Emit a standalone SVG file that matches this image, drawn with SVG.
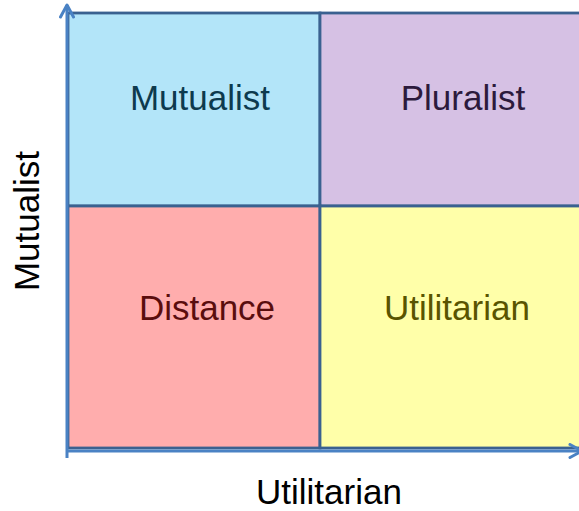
<svg xmlns="http://www.w3.org/2000/svg" width="579" height="511" viewBox="0 0 579 511">
  <style>
    .quad { stroke: #3a6190; stroke-width: 2.8; }
    .lbl { font-family: "Liberation Sans", Arial, sans-serif; font-size: 35px; text-anchor: middle; }
    .axis { stroke: #4a82c4; stroke-width: 3; fill: none; }
    .axlbl { font-family: "Liberation Sans", Arial, sans-serif; font-size: 35px; fill: #000; text-anchor: middle; }
  </style>
  <defs>
    <marker id="open-arrow" viewBox="0 0 16 16" refX="14" refY="8" markerWidth="16" markerHeight="16" markerUnits="userSpaceOnUse" orient="auto">
      <path d="M2,1.5 L14,8 L2,14.5" fill="none" stroke="#4a82c4" stroke-width="3" stroke-linecap="round" stroke-linejoin="round"/>
    </marker>
  </defs>

  <g id="quad-mutualist">
    <rect class="quad" x="68" y="13" width="252" height="193" fill="#b3e5f9"/>
    <text class="lbl" x="200" y="110" fill="#0d3a4e">Mutualist</text>
  </g>
  <g id="quad-pluralist">
    <rect class="quad" x="320" y="13" width="262" height="193" fill="#d6c1e4"/>
    <text class="lbl" x="463" y="110" fill="#2c1a3c">Pluralist</text>
  </g>
  <g id="quad-distance">
    <rect class="quad" x="68" y="206" width="252" height="242" fill="#ffadad"/>
    <text class="lbl" x="207" y="320" fill="#5a0d0d">Distance</text>
  </g>
  <g id="quad-utilitarian">
    <rect class="quad" x="320" y="206" width="262" height="242" fill="#ffffa9"/>
    <text class="lbl" x="457" y="320" fill="#595400">Utilitarian</text>
  </g>

  <g id="axes">
    <line class="axis" x1="67" y1="458" x2="67" y2="5" marker-end="url(#open-arrow)"/>
    <line class="axis" x1="67" y1="451" x2="582" y2="451" marker-end="url(#open-arrow)"/>
  </g>

  <g id="axis-labels">
    <text class="axlbl" x="329" y="504">Utilitarian</text>
    <text class="axlbl" x="0" y="0" transform="translate(39 221) rotate(-90)">Mutualist</text>
  </g>
</svg>
